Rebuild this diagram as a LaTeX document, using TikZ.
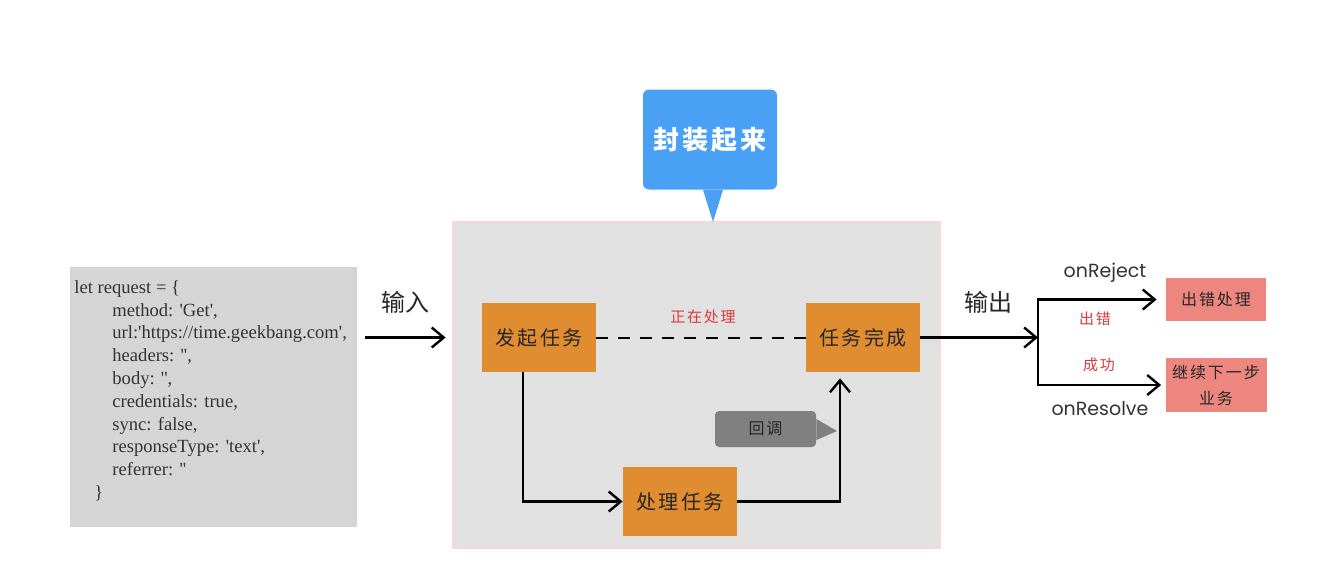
\documentclass[tikz,border=0pt]{standalone}
\usepackage{fontspec}
\setmainfont{Liberation Serif}[Ligatures=TeXOff]
\newfontfamily\cjk{Noto Sans CJK SC}
\newfontfamily\cbspaced[LetterSpace=12]{Noto Sans CJK SC}
\newfontfamily\roundsans{Poppins}
\usepackage{tikz}
\usetikzlibrary{arrows.meta}

\definecolor{taskorange}{RGB}{224,140,48}
\definecolor{errpink}{RGB}{238,134,128}
\definecolor{packblue}{RGB}{74,160,245}
\definecolor{codegray}{RGB}{213,213,213}
\definecolor{wrapgray}{RGB}{225,225,225}
\definecolor{wrapline}{RGB}{248,215,215}
\definecolor{notered}{RGB}{222,56,56}

\begin{document}
\begin{tikzpicture}[x=0.5pt,y=-0.5pt,
    task/.style={fill=taskorange, minimum width=57pt, minimum height=34.5pt,
                 font=\cbspaced\fontsize{10}{12}\selectfont, text=black!85},
    result/.style={fill=errpink, minimum width=50pt, align=center,
                   font=\cbspaced\fontsize{8}{13}\selectfont, text=black!85},
    flow/.style={line width=1.2pt, -{Straight Barb[length=6pt,width=10pt,line width=1.2pt]}},
    tag/.style={font=\cjk\fontsize{12}{14}\selectfont, text=black!85},
    hook/.style={font=\roundsans\fontsize{9.5}{11}\selectfont, text=black!80},
    remark/.style={font=\cbspaced\fontsize{7.5}{9}\selectfont, text=notered}]
\useasboundingbox (0,0) rectangle (1324,584);

\node[fill=codegray, minimum width=143.5pt, minimum height=130pt] (req) at (213.5,397) {};
\node[anchor=north west, inner sep=0pt, align=left, text=black!80,
      font=\fontsize{9.3}{11.4}\selectfont] (reqtext) at (74,280)
  {let request = \{\\
   \hspace*{19pt}method: 'Get',\\
   \hspace*{19pt}url:'https://time.geekbang.com',\\
   \hspace*{19pt}headers: '',\\
   \hspace*{19pt}body: '',\\
   \hspace*{19pt}credentials: true,\\
   \hspace*{19pt}sync: false,\\
   \hspace*{19pt}responseType: 'text',\\
   \hspace*{19pt}referrer: ''\\
   \hspace*{10pt}\}};

\node[fill=wrapgray, draw=wrapline, line width=1pt, minimum width=243.5pt, minimum height=163pt] (wrap) at (696.5,385) {};

\node[fill=packblue, rounded corners=3pt, minimum width=67pt, minimum height=50pt, text=white,
      font=\cbspaced\bfseries\fontsize{13}{15}\selectfont] (pack) at (710,139.5) {封装起来};
\coordinate (packtip) at (713,222);
\fill[packblue] ([xshift=-3.5pt]pack.south) -- (packtip) -- ([xshift=6.5pt]pack.south) -- cycle;

\node[task] (start) at (539,337.5) {发起任务};
\node[task] (done) at (863,337.5) {任务完成};
\node[task] (work) at (680,501.5) {处理任务};

\draw[line width=1pt, dash pattern=on 6pt off 5pt] (start.east) -- (done.west);
\node[remark] (busy) at (703,317) {正在处理};

\draw[flow] ([xshift=-8pt]start.south) |- (work.west);
\draw[flow, shorten >=3pt] (work.east) -| ([xshift=-11.5pt]done.south);

\node[fill=black!50, rounded corners=2pt, minimum width=50.5pt, minimum height=18pt,
      font=\cbspaced\fontsize{8}{10}\selectfont, text=black!85] (cb) at (765.5,429) {回调};
\coordinate (cbtip) at (837,431);
\fill[black!50] ([yshift=5pt]cb.east) -- (cbtip) -- ([yshift=-5.5pt]cb.east) -- cycle;

\node[tag] (in) at (405,302) {输入};
\draw[flow, shorten >=18pt] ([xshift=4pt]req.east |- done.east) -- (start.west);

\node[tag] (out) at (988,302) {输出};
\coordinate (split) at (1038,337.5);
\draw[flow] (done.east) -- (split);

\node[result, minimum height=21.5pt] (err) at (1216,299.5) {出错处理};
\node[result, minimum height=27pt] (next) at (1216,385) {继续下一步\\业务};

\draw[flow, shorten >=4.5pt] (split) |- (err.west);
\draw[flow, shorten >=2pt] (split) |- (next.west);

\node[hook] (rej) at (1105,273) {onReject};
\node[hook] (res) at (1100,409) {onResolve};
\node[remark] (fail) at (1095,319) {出错};
\node[remark] (ok) at (1099,365) {成功};
\end{tikzpicture}
\end{document}
